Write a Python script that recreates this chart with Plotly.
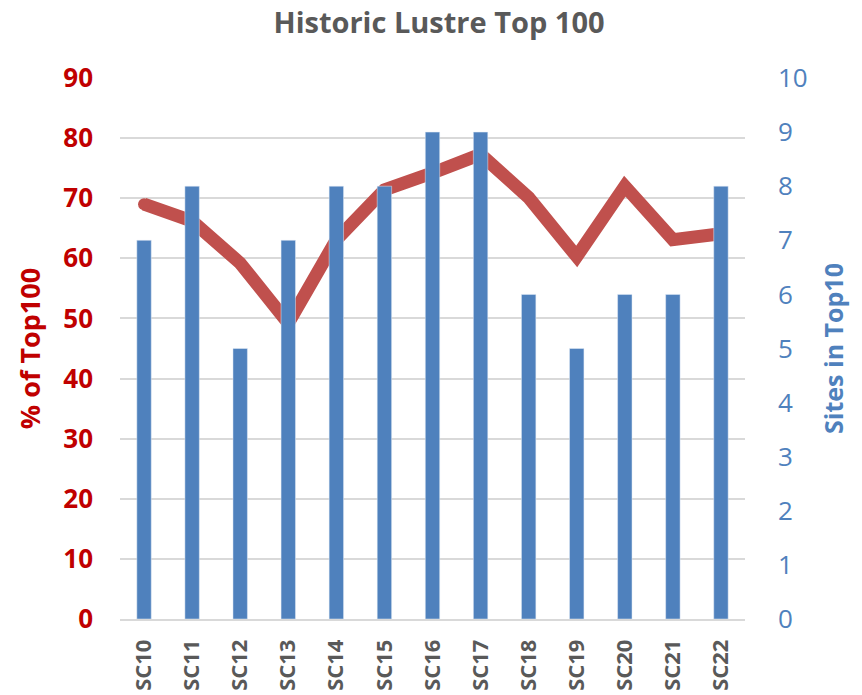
import plotly.graph_objects as go

categories = ["SC10", "SC11", "SC12", "SC13", "SC14", "SC15", "SC16",
              "SC17", "SC18", "SC19", "SC20", "SC21", "SC22"]
pct_top100 = [69.0, 66.2, 59.2, 49.2, 63.1, 71.4, 74.2, 77.3, 70.1, 60.3, 72.0, 63.1, 64.1]
sites_top10 = [7, 8, 5, 7, 8, 8, 9, 9, 6, 5, 6, 6, 8]

RED = "#C0504D"
BLUE = "#4F81BD"
DARKRED = "#C00000"
GRAY = "#595959"
FONT = "Open Sans"

fig = go.Figure()
fig.add_trace(go.Bar(x=categories, y=sites_top10, yaxis="y2", marker_color=BLUE,
                     width=0.3, name="Sites in Top10"))
fig.add_trace(go.Scatter(x=categories, y=pct_top100, yaxis="y", mode="lines+markers",
                         line=dict(color=RED, width=13, shape="linear"),
                         marker=dict(color=RED, size=12, line=dict(width=0)),
                         cliponaxis=False, name="% of Top100"))

fig.update_layout(
    width=862, height=695,
    margin=dict(l=112, r=125, t=70, b=84),
    plot_bgcolor="white", paper_bgcolor="white",
    showlegend=False,
    title=dict(text="<b>Historic Lustre Top 100</b>", x=0.5, xanchor="center",
               y=0.993, yanchor="top",
               font=dict(family=FONT, size=29, color=GRAY)),
    xaxis=dict(tickangle=-90, automargin=False, range=[-0.5, len(categories) - 0.5],
               tickfont=dict(family=FONT, size=22, color=GRAY, weight="bold"),
               showline=True, linecolor="#D9D9D9", linewidth=1.5, ticks="",
               ticklabelstandoff=10),
    yaxis=dict(range=[0, 90], dtick=10, gridcolor="#D9D9D9", gridwidth=1.5,
               zeroline=False, automargin=False,
               tickfont=dict(family=FONT, size=26, color=DARKRED, weight="bold"),
               ticklabelstandoff=26,
               title=dict(text="<b>% of Top100</b>", standoff=14,
                          font=dict(family=FONT, size=27, color=DARKRED))),
    yaxis2=dict(range=[0, 10], dtick=1, overlaying="y", side="right", showgrid=False,
                zeroline=False, automargin=False,
                tickfont=dict(family=FONT, size=26, color=BLUE),
                ticklabelstandoff=32,
                title=dict(text="<b>Sites in Top10</b>", standoff=18,
                           font=dict(family=FONT, size=25, color=BLUE))),
)

fig.write_html("out.html")
